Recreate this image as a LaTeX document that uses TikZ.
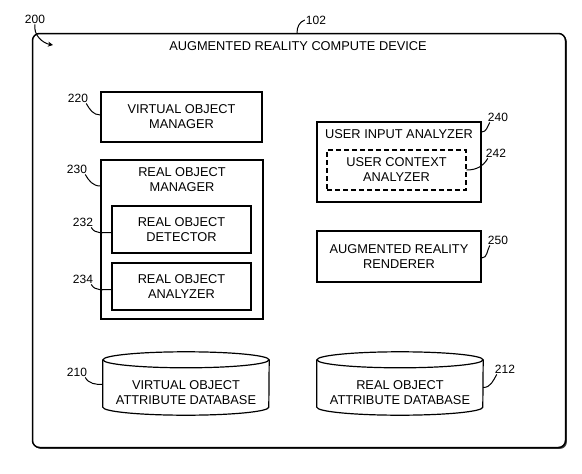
\documentclass[tikz,border=0pt]{standalone}
\usepackage{fontspec}
\setmainfont{Liberation Sans}
\usetikzlibrary{shapes.geometric, arrows.meta, positioning, shadows}
\tikzset{
  box/.style={rectangle, draw=black, fill=white, align=center, line width=1.3pt, font=\fontsize{12.8}{15}\selectfont,
    drop shadow={shadow xshift=1.4pt, shadow yshift=-1.4pt, fill=black!75, opacity=1}},
  dashbox/.style={rectangle, draw=black, dashed, dash pattern=on 5pt off 3pt, align=center, line width=1.4pt, font=\fontsize{12.8}{15}\selectfont},
  dbframe/.style={rectangle, draw=none, inner sep=0pt},
  drum/.style={draw=black, line width=1.2pt},
  txt/.style={align=center, inner sep=0pt, font=\fontsize{12.8}{15}\selectfont},
  num/.style={inner sep=1pt, font=\fontsize{12}{14}\selectfont},
  lead/.style={line width=1pt},
  arrow/.style={-{Stealth[length=5pt, width=5pt]}, line width=1pt}
}
\begin{document}
\begin{tikzpicture}[x=1pt, y=-1pt]
  \useasboundingbox (0,0) rectangle (582,474);

  % Compute device
  \node[box, rounded corners=7pt, line width=1.5pt, minimum width=533pt, minimum height=414pt] (acd) at (299,240.5) {};
  \node[txt] (acdtitle) at (298,46) {AUGMENTED REALITY COMPUTE DEVICE};
  \node[num] (l200) at (35,19) {200};
  \node[num] (l102) at (316,20) {102};
  \draw[arrow] (l200.south) to[out=-100, in=170] (53,45);
  \draw[lead] (297,33) to[out=90, in=200] (l102.west);

  % Left column
  \node[box, minimum width=161pt, minimum height=50pt] (vom) at (181.5,117) {VIRTUAL OBJECT\\MANAGER};
  \node[box, minimum width=162pt, minimum height=159pt] (rom) at (182,239.5) {};
  \node[txt] (romtitle) at (182,180) {REAL OBJECT\\MANAGER};
  \node[box, minimum width=139pt, minimum height=47pt] (rod) at (181.5,229.5) {REAL OBJECT\\DETECTOR};
  \node[box, minimum width=139pt, minimum height=47pt] (roa) at (181.5,286.5) {REAL OBJECT\\ANALYZER};

  % Right column
  \node[box, minimum width=164pt, minimum height=80pt] (uia) at (399,162) {};
  \node[txt] (uiatitle) at (399,134) {USER INPUT ANALYZER};
  \node[dashbox, minimum width=139pt, minimum height=40pt] (uca) at (396.5,170) {USER CONTEXT\\ANALYZER};
  \node[box, minimum width=164pt, minimum height=51pt] (arr) at (399,256.5) {AUGMENTED REALITY\\RENDERER};

  % Databases
  \node[dbframe, minimum width=166pt, minimum height=63pt] (voadb) at (186,383.5) {};
  \node[dbframe, minimum width=166pt, minimum height=63pt] (roadb) at (400,383.5) {};
  \foreach \db in {voadb, roadb} {
    \draw[drum] ([yshift=-8pt]\db.north west) -- ([yshift=8pt]\db.south west)
      arc[start angle=180, end angle=360, x radius=83pt, y radius=8pt] -- ([yshift=-8pt]\db.north east);
    \draw[drum] ([yshift=-8pt]\db.north) ellipse[x radius=83pt, y radius=8pt];
  }
  \node[txt] (voadbtext) at (186,393) {VIRTUAL OBJECT\\ATTRIBUTE DATABASE};
  \node[txt] (roadbtext) at (400,393) {REAL OBJECT\\ATTRIBUTE DATABASE};

  % Reference numerals
  \node[num] (l220) at (78,98) {220};
  \node[num] (l230) at (77,169) {230};
  \node[num] (l232) at (83,222) {232};
  \node[num] (l234) at (83,279) {234};
  \node[num] (l240) at (498,117) {240};
  \node[num] (l242) at (496,153) {242};
  \node[num] (l250) at (498,240) {250};
  \node[num] (l210) at (77,372) {210};
  \node[num] (l212) at (505,369) {212};

  \draw[lead] ([yshift=2pt]vom.west) to[out=180, in=-60] ([xshift=-3pt]l220.south east);
  \draw[lead] ([yshift=53.5pt]rom.west) to[out=180, in=-60] ([xshift=-3pt]l230.south east);
  \draw[lead] ([yshift=-3pt]rod.west) to[out=180, in=-60] ([xshift=-3pt]l232.south east);
  \draw[lead] ([yshift=-3pt]roa.west) to[out=180, in=-60] ([xshift=-3pt]l234.south east);
  \draw[lead] ([yshift=30pt]uia.east) to[out=0, in=-120] ([xshift=3pt]l240.south west);
  \draw[lead] (uca.east) to[out=0, in=-120] ([xshift=3pt]l242.south west);
  \draw[lead] ([yshift=-1.5pt]arr.east) to[out=0, in=-120] ([xshift=3pt]l250.south west);
  \draw[lead] ([yshift=-1pt]voadb.west) to[out=180, in=-60] ([xshift=-3pt]l210.south east);
  \draw[lead] ([yshift=-4pt]roadb.east) to[out=0, in=-120] ([xshift=3pt]l212.south west);
\end{tikzpicture}
\end{document}
